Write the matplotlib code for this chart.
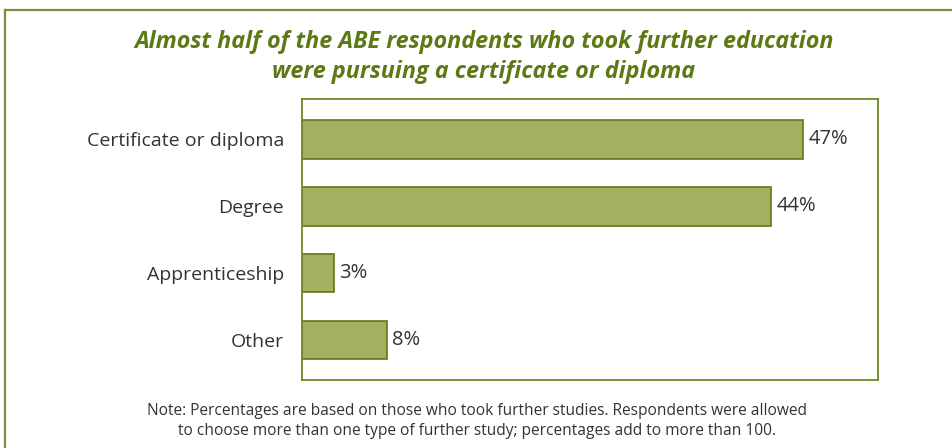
import matplotlib.pyplot as plt
from matplotlib.lines import Line2D

plt.rcParams['font.family'] = ['Open Sans', 'DejaVu Sans']

categories = ['Certificate or diploma', 'Degree', 'Apprenticeship', 'Other']
values = [47, 44, 3, 8]
value_labels = ['47%', '44%', '3%', '8%']

title = ('Almost half of the ABE respondents who took further education\n'
         'were pursuing a certificate or diploma')
note = ('Note: Percentages are based on those who took further studies. Respondents were allowed\n'
        'to choose more than one type of further study; percentages add to more than 100.')

green_dark = '#5b7a14'
bar_fill = '#a3b062'
frame_col = '#6b8a22'

fig = plt.figure(figsize=(9.53, 4.48), dpi=100)

# outer frame: top and left edges only
fig.add_artist(Line2D([5 / 953, 1.0], [1 - 10 / 448, 1 - 10 / 448],
                      transform=fig.transFigure, color='#7d8f3c', linewidth=1.6))
fig.add_artist(Line2D([5 / 953, 5 / 953], [0.0, 1 - 10 / 448],
                      transform=fig.transFigure, color='#7d8f3c', linewidth=1.6))

ax = fig.add_axes([302 / 953, 1 - 380 / 448, 576 / 953, 280.7 / 448])

y = list(range(len(categories)))
ax.barh(y, values, height=0.577, color=bar_fill, edgecolor=green_dark, linewidth=1.2)

for yi, v, lab in zip(y, values, value_labels):
    ax.text(v + 0.45, yi, lab, va='center', ha='left', fontsize=14.5, color='#333333')

ax.set_xlim(0, 54)
ax.set_ylim(3.6, -0.6)
ax.set_yticks(y)
ax.set_yticklabels(categories, fontsize=14, color='#333333')
ax.set_xticks([])
ax.tick_params(axis='y', length=0, pad=13)
for s in ax.spines.values():
    s.set_color(frame_col)
    s.set_linewidth(1.3)

fig.text(484 / 953, 1 - 57 / 448, title, ha='center', va='center', fontsize=16.8,
         fontweight='bold', fontstyle='italic', color=green_dark, linespacing=1.3)

fig.text(477 / 953, 1 - 421 / 448, note, ha='center', va='center', fontsize=11.2,
         color='#333333', linespacing=1.4)

fig.savefig('out.png', dpi=100, facecolor='white')
